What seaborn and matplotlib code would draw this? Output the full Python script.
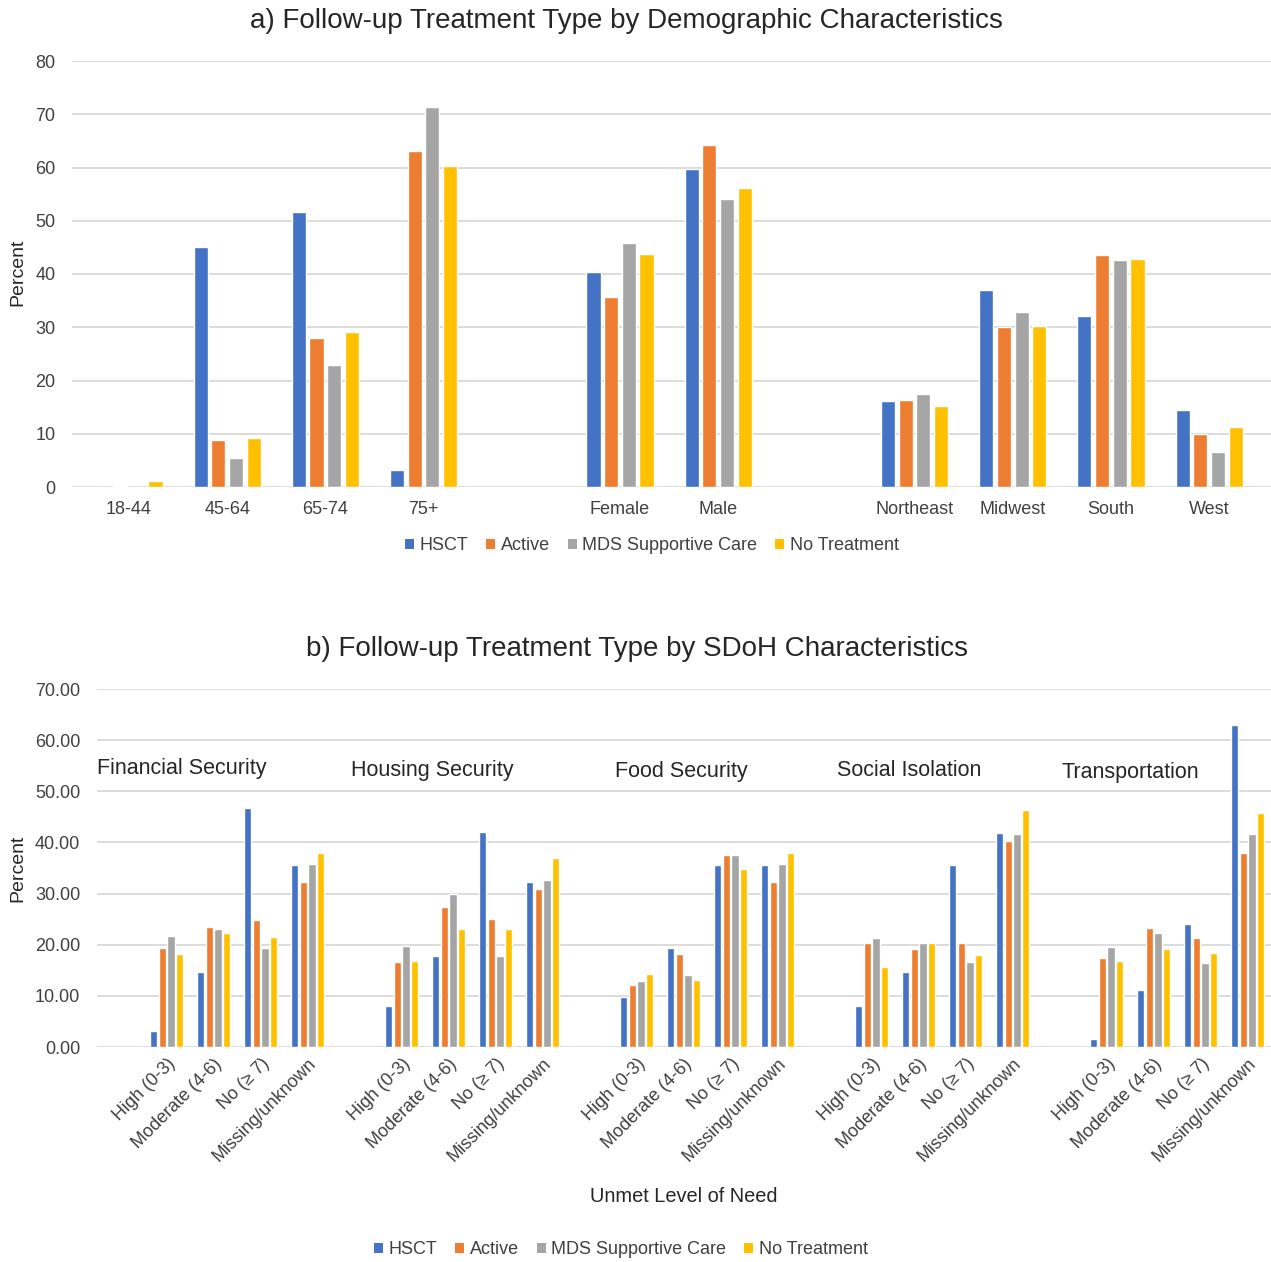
import numpy as np
import pandas as pd
import seaborn as sns
import matplotlib.pyplot as plt
from matplotlib.patches import Patch

# ---------------- data ----------------
series = ["HSCT", "Active", "MDS Supportive Care", "No Treatment"]
colors = ["#4472C4", "#ED7D31", "#A5A5A5", "#FFC000"]

demo_categories = ["18-44", "45-64", "65-74", "75+", "Female", "Male",
                   "Northeast", "Midwest", "South", "West"]
demo_order = ["18-44", "45-64", "65-74", "75+", " ", "Female", "Male", "  ",
              "Northeast", "Midwest", "South", "West"]
demo_hsct = [0.0, 45.1, 51.6, 3.1, 40.3, 59.7, 16.1, 37.0, 32.1, 14.4]
demo_active = [0.2, 8.8, 27.9, 63.1, 35.6, 64.3, 16.3, 30.0, 43.6, 9.9]
demo_mds = [0.0, 5.5, 22.9, 71.4, 45.9, 54.1, 17.5, 32.8, 42.6, 6.6]
demo_none = [1.1, 9.2, 29.1, 60.3, 43.8, 56.2, 15.3, 30.2, 42.9, 11.3]

sdoh_groups = ["Financial Security", "Housing Security", "Food Security",
               "Social Isolation", "Transportation"]
need_levels = ["High (0-3)", "Moderate (4-6)", "No (\u2265 7)", "Missing/unknown"]
sdoh_hsct = [3.1, 14.6, 46.7, 35.5,
             8.0, 17.8, 42.0, 32.2,
             9.7, 19.4, 35.5, 35.5,
             8.0, 14.6, 35.5, 41.9,
             1.6, 11.2, 24.1, 63.0]
sdoh_active = [19.4, 23.5, 24.8, 32.2,
               16.6, 27.3, 25.1, 30.9,
               12.2, 18.1, 37.6, 32.3,
               20.4, 19.1, 20.4, 40.2,
               17.5, 23.2, 21.4, 38.0]
sdoh_mds = [21.8, 23.1, 19.3, 35.7,
            19.7, 29.9, 17.8, 32.7,
            12.9, 14.0, 37.5, 35.7,
            21.4, 20.3, 16.7, 41.7,
            19.6, 22.2, 16.4, 41.7]
sdoh_none = [18.1, 22.3, 21.6, 38.0,
             16.9, 23.0, 23.0, 37.0,
             14.2, 13.1, 34.8, 38.0,
             15.6, 20.4, 17.9, 46.3,
             16.9, 19.1, 18.3, 45.7]

# ---------------- frames ----------------
demo_vals = [demo_hsct, demo_active, demo_mds, demo_none]
df_a = pd.DataFrame([
    {"cat": c, "series": s, "value": v[i]}
    for s, v in zip(series, demo_vals) for i, c in enumerate(demo_categories)
])

sdoh_keys = [f"{g}|{l}" for g in sdoh_groups for l in need_levels]
sdoh_vals = [sdoh_hsct, sdoh_active, sdoh_mds, sdoh_none]
df_b = pd.DataFrame([
    {"cat": k, "series": s, "value": v[i]}
    for s, v in zip(series, sdoh_vals) for i, k in enumerate(sdoh_keys)
])
sdoh_order = []
for gi, g in enumerate(sdoh_groups):
    sdoh_order += [f"{g}|{l}" for l in need_levels]
    if gi < len(sdoh_groups) - 1:
        sdoh_order.append(" " * (gi + 1))

# ---------------- style ----------------
sns.set_theme(style="white")
plt.rcParams["font.family"] = ["Liberation Sans", "DejaVu Sans"]
txt = "#262626"
tickc = "#404040"
grid = "#d9d9d9"

W, H = 1271, 1262
fig = plt.figure(figsize=(W / 100, H / 100), dpi=100)
palette = dict(zip(series, colors))


def style_axes(ax):
    for sp in ax.spines.values():
        sp.set_visible(False)
    ax.yaxis.grid(True, color=grid, linewidth=1.3)
    ax.xaxis.grid(False)
    ax.set_axisbelow(True)
    ax.tick_params(axis="both", length=0, colors=tickc, labelsize=13)
    ax.set_xlabel("")
    ax.set_ylabel("")


# ---------------- panel a ----------------
ax1 = fig.add_axes([72 / W, 1 - 487 / H, (W - 72) / W, (487 - 61) / H])
sns.barplot(data=df_a, x="cat", y="value", hue="series", order=demo_order,
            hue_order=series, palette=palette, width=0.72, gap=0.2,
            errorbar=None, legend=False, ax=ax1, saturation=1)
style_axes(ax1)
ax1.set_ylim(0, 80)
ax1.set_yticks(np.arange(0, 81, 10))
ax1.set_xlim(-0.58, 11.63)
ax1.tick_params(axis="y", pad=12)
ax1.tick_params(axis="x", pad=10)
fig.text(626 / W, 1 - 21 / H, "a) Follow-up Treatment Type by Demographic Characteristics",
         ha="center", va="center", fontsize=20, color=txt)
fig.text(17.5 / W, 1 - 272 / H, "Percent", rotation=90, ha="center", va="center",
         fontsize=14, color=txt)

handles = [Patch(facecolor=c, edgecolor="none") for c in colors]
fig.legend(handles, series, loc="center", bbox_to_anchor=(652 / W, 1 - 546 / H),
           ncol=4, frameon=False, fontsize=13, handlelength=0.5, handleheight=0.5,
           handletextpad=0.3, columnspacing=1.0, labelcolor=tickc)

# ---------------- panel b ----------------
ax2 = fig.add_axes([97 / W, 1 - 1047 / H, (W - 97) / W, (1047 - 689) / H])
sns.barplot(data=df_b, x="cat", y="value", hue="series", order=sdoh_order,
            hue_order=series, palette=palette, width=0.74, gap=0.16,
            errorbar=None, legend=False, ax=ax2, saturation=1)
style_axes(ax2)
ax2.set_ylim(0, 70)
ax2.set_yticks(np.arange(0, 71, 10))
ax2.set_yticklabels([f"{v:.2f}" for v in np.arange(0, 71, 10)])
ax2.set_xlim(-1.48, 23.5)
ax2.tick_params(axis="y", pad=12)
ax2.set_xticks(range(len(sdoh_order)))
ax2.set_xticklabels([k.split("|")[1] if "|" in k else "" for k in sdoh_order],
                    rotation=45, ha="right", rotation_mode="anchor", fontsize=13)
ax2.tick_params(axis="x", pad=6)

group_x = [None, 5.65, 10.95, 15.8, 20.5]
group_y = [54.4, 54.0, 53.8, 54.0, 53.6]
for gi, g in enumerate(sdoh_groups):
    if gi == 0:
        ax2.text(-1.48, group_y[gi], g, ha="left", va="center", fontsize=15.5, color=txt)
    else:
        ax2.text(group_x[gi], group_y[gi], g, ha="center", va="center", fontsize=15.5, color=txt)

fig.text(637 / W, 1 - 649 / H, "b) Follow-up Treatment Type by SDoH Characteristics",
         ha="center", va="center", fontsize=20, color=txt)
fig.text(17.5 / W, 1 - 868 / H, "Percent", rotation=90, ha="center", va="center",
         fontsize=14, color=txt)
fig.text(684 / W, 1 - 1197 / H, "Unmet Level of Need", ha="center", va="center",
         fontsize=14.4, color=txt)

fig.legend(handles, series, loc="center", bbox_to_anchor=(621 / W, 1 - 1250 / H),
           ncol=4, frameon=False, fontsize=13, handlelength=0.5, handleheight=0.5,
           handletextpad=0.3, columnspacing=1.0, labelcolor=tickc)

fig.savefig("out.png", dpi=100, facecolor="white")
